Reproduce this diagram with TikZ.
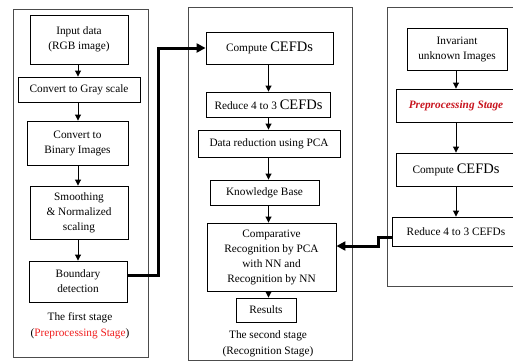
\documentclass[tikz,border=0pt]{standalone}
\usepackage{fontspec}
\setmainfont{Liberation Serif}
\usetikzlibrary{arrows.meta}
\definecolor{lred}{RGB}{240,30,30}
\definecolor{dred}{RGB}{200,20,30}
\newcommand\cefdtxt{{\fontsize{14.5}{15}\selectfont CEFDs}}
\begin{document}
\begin{tikzpicture}[x=1pt,y=-1pt,
  box/.style={draw=black, line width=0.9pt, inner sep=0pt, align=center,
    font=\fontsize{11.3}{15}\selectfont},
  panel/.style={draw=black!70, line width=0.9pt},
  arr/.style={-{Triangle[length=6pt,width=6pt]}, line width=0.9pt},
  bigarr/.style={-{Triangle[length=9pt,width=9pt]}, line width=3pt},
  lbl/.style={align=center, inner sep=0pt, font=\fontsize{11.3}{16}\selectfont}]
\useasboundingbox (0,0) rectangle (513,362);
\clip (0,0) rectangle (513,362);

% panels
\draw[panel] (13,9) rectangle (148,357);
\draw[panel] (188,7) rectangle (352,360);
\draw[panel] (387,7) rectangle (540,286);

% column coordinates
\coordinate (lx) at (78,0);
\coordinate (mx) at (268.5,0);
\coordinate (rx) at (456,0);

% left column
\node[box, minimum width=98pt, minimum height=49pt] (in) at (79,39.5) {Input data\\(RGB image)};
\node[box, minimum width=122pt, minimum height=25pt] (gray) at (79,89.5) {Convert to Gray scale};
\node[box, minimum width=101pt, minimum height=44pt] (bin) at (77.5,143) {Convert to\\Binary Images};
\node[box, minimum width=98pt, minimum height=53pt] (smooth) at (79,212.5) {Smoothing\\\& Normalized\\scaling};
\node[box, minimum width=98pt, minimum height=41pt] (bound) at (78,281.5) {Boundary\\detection};
\node[lbl] (l1) at (80,326) {The first stage\\(\textcolor{lred}{Preprocessing Stage})};

\draw[arr] (in.south -| lx) -- (gray.north -| lx);
\draw[arr] (gray.south -| lx) -- (bin.north -| lx);
\draw[arr] (bin.south -| lx) -- (smooth.north -| lx);
\draw[arr] (smooth.south -| lx) -- (bound.north -| lx);

% middle column
\node[box, minimum width=127pt, minimum height=32pt] (comp) at (269.5,48) {Compute \cefdtxt};
\node[box, minimum width=124pt, minimum height=25pt] (red) at (268.5,104.5) {Reduce 4 to 3 \cefdtxt};
\node[box, minimum width=142pt, minimum height=27pt] (data) at (269,143.5) {Data reduction using PCA};
\node[box, minimum width=109pt, minimum height=25pt] (kb) at (264.5,192.5) {Knowledge Base};
\node[box, minimum width=129pt, minimum height=68pt] (cmp) at (271.5,257) {Comparative\\Recognition by PCA\\with NN and\\Recognition by NN};
\node[box, minimum width=60pt, minimum height=24pt] (res) at (266,310) {Results};
\node[lbl] (l2) at (268,344) {The second stage\\(Recognition Stage)};

\draw[arr] (comp.south -| mx) -- (red.north -| mx);
\draw[arr] (red.south -| mx) -- (data.north -| mx);
\draw[arr] (data.south -| mx) -- (kb.north -| mx);
\draw[arr] (kb.south -| mx) -- (cmp.north -| mx);
\draw[arr] (cmp.south -| mx) -- (res.north -| mx);

% right column
\node[box, minimum width=100pt, minimum height=42pt] (inv) at (457,49) {Invariant\\unknown Images};
\node[box, minimum width=120pt, minimum height=33pt] (pre) at (456,105.5) {\textcolor{dred}{\bfseries\itshape Preprocessing Stage}};
\node[box, minimum width=120pt, minimum height=33pt] (cmp2) at (456,169.5) {Compute \cefdtxt};
\node[box, minimum width=128pt, minimum height=29pt] (red2) at (456,231.5) {Reduce 4 to 3 CEFDs};

\draw[arr] (inv.south -| rx) -- (pre.north -| rx);
\draw[arr] (pre.south -| rx) -- (cmp2.north -| rx);
\draw[arr] (cmp2.south -| rx) -- (red2.north -| rx);

% thick connectors
\draw[bigarr] ([yshift=6.5pt]bound.east) -- ++(31,0) |- (comp.west);
\draw[bigarr] ([yshift=-5.5pt]red2.west) -- ++(-13,0) |- ([yshift=11pt]cmp.east);
\end{tikzpicture}
\end{document}
